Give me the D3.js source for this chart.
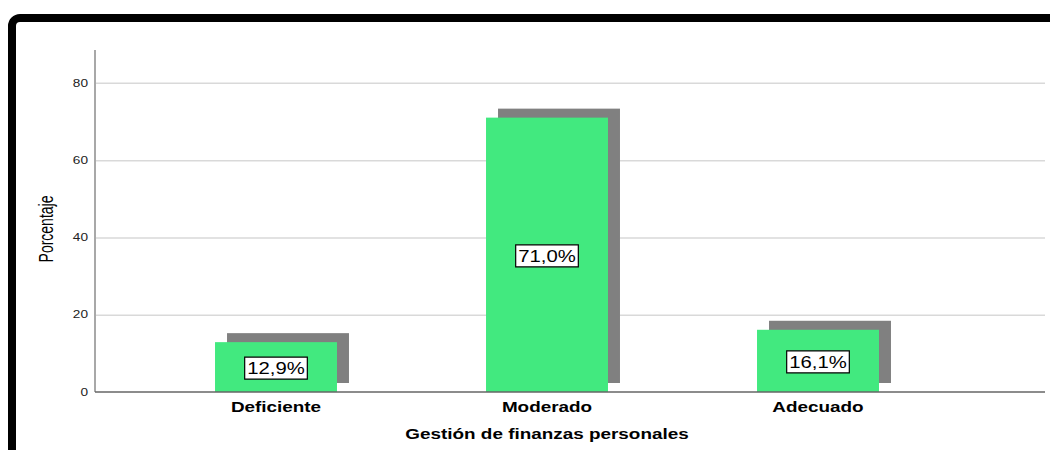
<!DOCTYPE html>
<html>
<head>
<meta charset="utf-8">
<script src="https://cdn.jsdelivr.net/npm/d3@7"></script>
<style>
    body { margin: 0; background: #fff; }
    svg { display: block; font-family: "Liberation Sans", Arial, sans-serif; }
</style>
</head>
<body>
<svg class="svg-canvas" width="1050" height="450"></svg>
<script>
    //Chart data
    var categories = ["Deficiente", "Moderado", "Adecuado"];
    var values = [12.9, 71.0, 16.1];
    var valueLabels = ["12,9%", "71,0%", "16,1%"];
    var yTicks = [0, 20, 40, 60, 80];
    var xTitle = "Gestión de finanzas personales";
    var yTitle = "Porcentaje";

    (function(){
        //The original picture is stretched sideways, text follows that
        var sx = 1.26;

        //Plot area
        var plotL = 95, plotR = 1045, plotT = 50, plotB = 392;

        var svg = d3.select('.svg-canvas');

        //Frame around the picture
        svg.append("rect")
            .attr("x", 12).attr("y", 18)
            .attr("width", 1200).attr("height", 600)
            .attr("rx", 8)
            .style("fill", "none")
            .style("stroke", "#000")
            .attr("stroke-width", 8);

        var y = d3.scaleLinear()
            .domain([0, 88.5])
            .range([plotB, plotT]);

        var x = d3.scaleBand()
            .domain(categories)
            .range([140.5, 953.5])
            .padding(0);

        var barW = x.bandwidth() * 0.45;
        var shX = 12, shY = 9;

        //Gridlines
        var grid = svg.append("g")
            .attr("transform", "translate(" + plotL + ",0)")
            .call(d3.axisRight(y).tickValues(yTicks.slice(1)).tickSize(plotR - plotL).tickFormat(""));
        grid.select(".domain").remove();
        grid.selectAll(".tick line").style("stroke", "#d9d9d9").attr("stroke-width", 1.5);

        //Y axis line and tick labels
        svg.append("line")
            .attr("x1", plotL).attr("x2", plotL)
            .attr("y1", plotT).attr("y2", plotB)
            .style("stroke", "#a8a8a8")
            .attr("stroke-width", 2);

        svg.selectAll(".ytick").data(yTicks).enter().append("text")
            .attr("class", "ytick")
            .attr("transform", function(d){ return "translate(88," + y(d) + ") scale(1.3,1)"; })
            .attr("dy", "0.35em")
            .attr("text-anchor", "end")
            .style("font-size", "10.5px")
            .style("fill", "#222")
            .text(function(d){ return d; });

        //Shadow bars
        svg.selectAll(".shadow").data(values).enter().append("rect")
            .attr("class", "shadow")
            .attr("x", function(d, i){ return x(categories[i]) + (x.bandwidth() - barW) / 2 + shX; })
            .attr("y", function(d){ return y(d) - shY; })
            .attr("width", barW)
            .attr("height", function(d){ return y(0) - y(d); })
            .style("fill", "#808080");

        //Green bars
        svg.selectAll(".bar").data(values).enter().append("rect")
            .attr("class", "bar")
            .attr("x", function(d, i){ return x(categories[i]) + (x.bandwidth() - barW) / 2; })
            .attr("y", function(d){ return y(d); })
            .attr("width", barW)
            .attr("height", function(d){ return y(0) - y(d); })
            .style("fill", "#42e97f");

        //Baseline
        svg.append("line")
            .attr("x1", plotL).attr("x2", plotR)
            .attr("y1", y(0)).attr("y2", y(0))
            .style("stroke", "#666")
            .attr("stroke-width", 1.5);

        //Value labels in boxes
        values.forEach(function(v, i){
            var g = svg.append("g")
                .attr("transform", "translate(" + (x(categories[i]) + x.bandwidth() / 2) + "," + ((y(v) + y(0)) / 2 + 1) + ") scale(1.27,1)");
            var box = g.append("rect")
                .style("fill", "#fff")
                .style("stroke", "#000")
                .attr("vector-effect", "non-scaling-stroke")
                .attr("stroke-width", 1.2);
            var t = g.append("text")
                .attr("text-anchor", "middle")
                .attr("dy", "0.36em")
                .style("font-size", "16px")
                .style("fill", "#000")
                .text(valueLabels[i]);
            var tw = t.node().getComputedTextLength();
            box.attr("x", -tw / 2 - 2).attr("y", -11)
                .attr("width", tw + 4).attr("height", 22);
        });

        //Category labels
        svg.selectAll(".cat").data(categories).enter().append("text")
            .attr("class", "cat")
            .attr("transform", function(d){ return "translate(" + (x(d) + x.bandwidth() / 2) + ",412) scale(" + sx + ",1)"; })
            .attr("text-anchor", "middle")
            .style("font-size", "15px")
            .style("font-weight", "bold")
            .style("fill", "#000")
            .text(function(d){ return d; });

        //Axis titles
        svg.append("text")
            .attr("transform", "translate(547,439) scale(" + sx + ",1)")
            .attr("text-anchor", "middle")
            .style("font-size", "15px")
            .style("font-weight", "bold")
            .style("fill", "#000")
            .text(xTitle);

        svg.append("text")
            .attr("transform", "translate(53,229) scale(1.5,1) rotate(-90)")
            .attr("text-anchor", "middle")
            .style("font-size", "14px")
            .style("fill", "#000")
            .text(yTitle);
    })();
</script>
</body>
</html>
